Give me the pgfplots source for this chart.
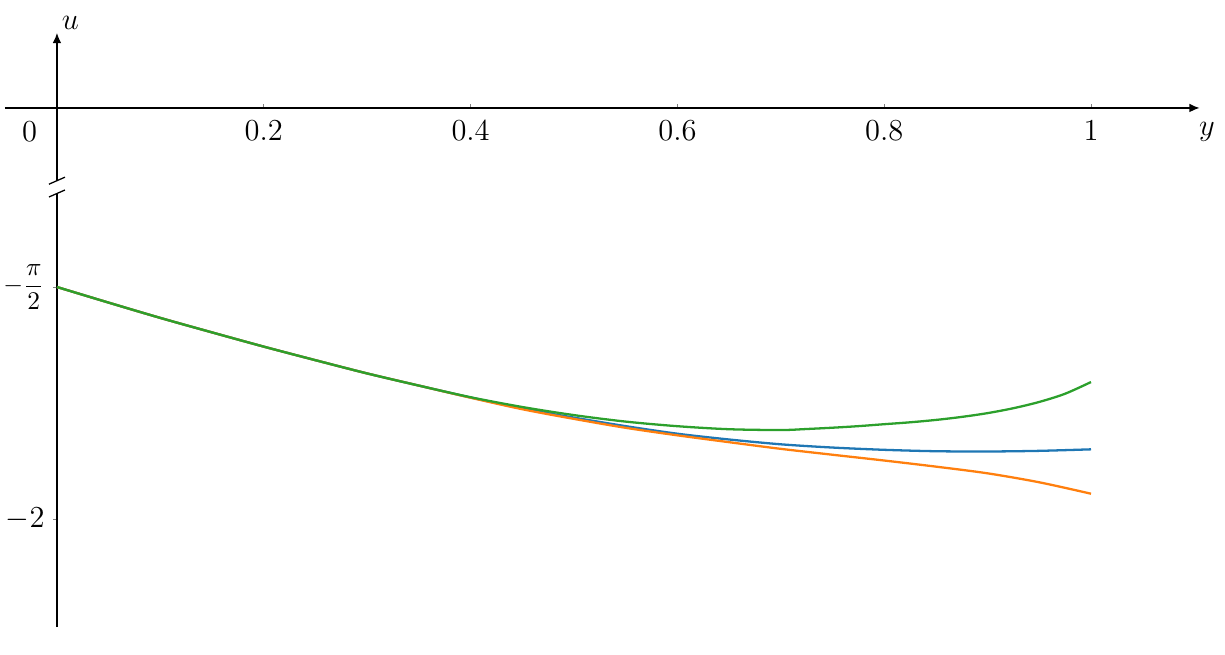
\documentclass[border=0pt]{standalone}
\usepackage{pgfplots}
\pgfplotsset{compat=1.18}
\usetikzlibrary{arrows.meta}
\definecolor{tabblue}{HTML}{1F77B4}
\definecolor{taborange}{HTML}{FF7F0E}
\definecolor{tabgreen}{HTML}{2CA02C}

\begin{document}
\begin{tikzpicture}
\begin{axis}[
  x=406.9pt, y=212.7pt,
  xmin=-0.0503, xmax=1.105,
  ymin=-0.9602, ymax=0.1388,
  axis lines=middle,
  clip=false,
  % the axis crosses at u = -1.2396, so the data are shifted up
  y filter/.expression={y+1.2396},
  x axis line style={line width=0.5pt, -{Latex[length=4pt,width=3.4pt]}},
  y axis line style={line width=0.5pt, -{Latex[length=4pt,width=3.4pt]}},
  xtick={0.2,0.4,0.6,0.8,1},
  xticklabels={$0.2$,$0.4$,$0.6$,$0.8$,$1$},
  ytick={-0.3312,-0.7604},
  yticklabels={{\normalsize$-{\displaystyle\frac{\pi}{2}}$},$-2$},
  tick align=outside,
  major tick length=1.4pt,
  xtick style={yshift=1.4pt, line width=0.4pt},
  ytick style={line width=0.4pt},
  tick label style={font=\large},
  yticklabel style={inner xsep=0.5pt, xshift=-2.8pt},
  xlabel={$y$}, ylabel={$u$},
  xlabel style={at={(current axis.right of origin)}, anchor=center, xshift=2.8pt, yshift=-9.4pt, font=\fontsize{13}{15}\selectfont, inner sep=0pt},
  ylabel style={at={(current axis.above origin)}, anchor=center, xshift=5.3pt, yshift=3.9pt, font=\fontsize{13}{15}\selectfont, inner sep=0pt},
]
\addplot[tabblue, line width=0.9pt, no marks, smooth] coordinates {
 (0,-1.5708) (0.05,-1.5997) (0.1,-1.6280) (0.15,-1.6548) (0.2,-1.6811)
 (0.25,-1.7062) (0.3,-1.7307) (0.35,-1.7532) (0.4,-1.7752) (0.45,-1.7956)
 (0.5,-1.8124) (0.55,-1.8282) (0.6,-1.8422) (0.65,-1.8529) (0.7,-1.8618)
 (0.75,-1.8678) (0.8,-1.8720) (0.85,-1.8746) (0.9,-1.8751) (0.95,-1.8739)
 (1,-1.8711)};
\addplot[taborange, line width=0.9pt, no marks, smooth] coordinates {
 (0,-1.5708) (0.05,-1.5997) (0.1,-1.6280) (0.15,-1.6548) (0.2,-1.6811)
 (0.25,-1.7062) (0.3,-1.7307) (0.35,-1.7532) (0.4,-1.7756) (0.45,-1.7969)
 (0.5,-1.8148) (0.55,-1.8313) (0.6,-1.8452) (0.65,-1.8579) (0.7,-1.8702)
 (0.75,-1.8811) (0.8,-1.8918) (0.85,-1.9031) (0.9,-1.9155) (0.95,-1.9321)
 (1,-1.9532)};
\addplot[tabgreen, line width=0.9pt, no marks, smooth] coordinates {
 (0,-1.5708) (0.05,-1.5997) (0.1,-1.6280) (0.15,-1.6548) (0.2,-1.6811)
 (0.25,-1.7062) (0.3,-1.7307) (0.35,-1.7532) (0.4,-1.7747) (0.45,-1.7928)
 (0.5,-1.8078) (0.55,-1.8198) (0.6,-1.8283) (0.65,-1.8339) (0.7,-1.8354)
 (0.725,-1.8335) (0.75,-1.8311) (0.775,-1.8282) (0.8,-1.8246) (0.825,-1.8211)
 (0.85,-1.8167) (0.875,-1.8111) (0.9,-1.8041) (0.925,-1.7950) (0.95,-1.7834)
 (0.975,-1.7682) (1,-1.7466)};
% origin label
\node[font=\large, anchor=center, xshift=-10.8pt, yshift=-9.4pt] at (current axis.origin) {$0$};
% break in the u axis
\fill[white] (axis cs:-0.004,-0.1345) rectangle (axis cs:0.004,-0.1582);
\draw[line width=0.5pt] ([shift={(-3.15pt,-1.38pt)}]axis cs:0,-0.1345) -- ++(6.3pt,2.76pt);
\draw[line width=0.5pt] ([shift={(-3.15pt,-1.38pt)}]axis cs:0,-0.1582) -- ++(6.3pt,2.76pt);
% page size as in the reference
\path (axis cs:-0.0551,0.1998) rectangle (axis cs:1.1296,-1.0102);
\end{axis}
\end{tikzpicture}
\end{document}
